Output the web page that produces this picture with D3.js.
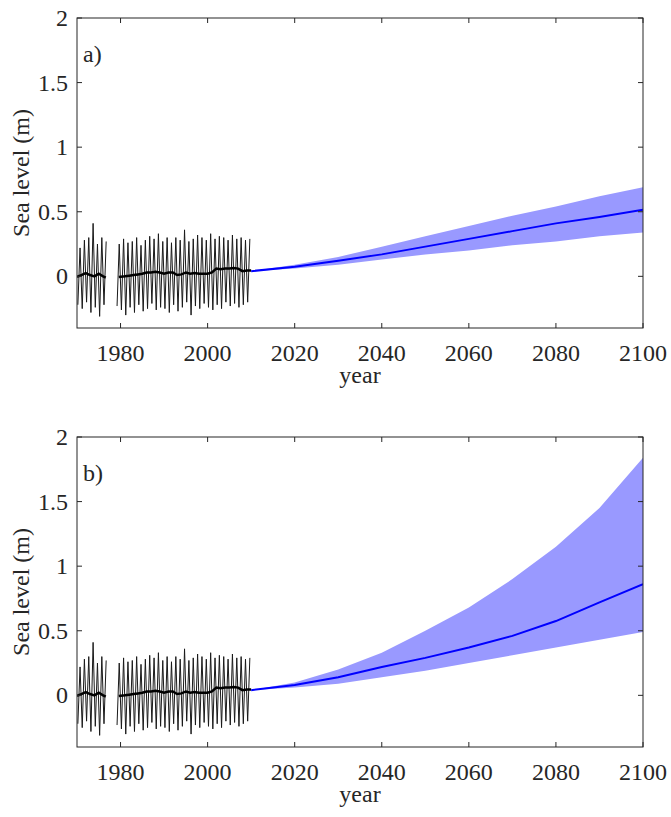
<!DOCTYPE html>
<html>
<head>
<meta charset="utf-8">
<script src="https://cdn.jsdelivr.net/npm/d3@7"></script>
<style>
  body { margin: 0; background: #fff; }
</style>
</head>
<body>
<svg id="chart" width="671" height="817"></svg>
<script>
// tide gauge record, one cycle per year (annual high / low), null = no data
const gaugeYears = d3.range(1970, 2010);
const gaugePeaks = [0.22, 0.28, 0.30, 0.41, 0.25, 0.30, 0.27, null, null, 0.25,
                    0.29, 0.26, 0.27, 0.30, 0.24, 0.28, 0.31, 0.29, 0.33, 0.27,
                    0.30, 0.26, 0.30, 0.28, 0.36, 0.27, 0.29, 0.32, 0.30, 0.28,
                    0.33, 0.29, 0.31, 0.30, 0.28, 0.32, 0.29, 0.30, 0.28, 0.29];
const gaugeTroughs = [-0.22, -0.25, -0.20, -0.28, -0.24, -0.31, -0.22, null, null, -0.23,
                      -0.26, -0.30, -0.24, -0.28, -0.22, -0.27, -0.25, -0.21, -0.26, -0.24,
                      -0.25, -0.28, -0.22, -0.27, -0.24, -0.20, -0.30, -0.23, -0.25, -0.21,
                      -0.24, -0.26, -0.22, -0.25, -0.20, -0.23, -0.21, -0.24, -0.22, -0.20];

// smoothed record
const trendYears = [1970, 1971, 1972, 1973, 1974, 1975, 1976, 1976.6, 1978, 1979.6,
                    1981, 1982, 1983, 1984, 1985, 1986, 1987, 1988, 1989, 1990,
                    1991, 1992, 1993, 1994, 1995, 1996, 1997, 1998, 1999, 2000,
                    2001, 2002, 2003, 2004, 2005, 2006, 2007, 2008, 2009, 2010];
const trendVals = [-0.005, 0.01, 0.025, 0.01, 0.0, 0.02, 0.0, -0.01, null, -0.005,
                   0.0, 0.005, 0.01, 0.015, 0.02, 0.03, 0.03, 0.035, 0.03, 0.02,
                   0.03, 0.03, 0.01, 0.015, 0.03, 0.02, 0.025, 0.02, 0.02, 0.02,
                   0.03, 0.06, 0.055, 0.06, 0.06, 0.065, 0.06, 0.04, 0.045, 0.045];

// projections
const projYears = [2010, 2020, 2030, 2040, 2050, 2060, 2070, 2080, 2090, 2100];
const projMidA = [0.04, 0.075, 0.12, 0.17, 0.23, 0.29, 0.35, 0.41, 0.46, 0.515];
const projLoA  = [0.04, 0.06, 0.09, 0.13, 0.17, 0.20, 0.24, 0.27, 0.31, 0.34];
const projHiA  = [0.04, 0.09, 0.15, 0.23, 0.31, 0.39, 0.47, 0.54, 0.62, 0.69];
const projMidB = [0.04, 0.08, 0.14, 0.22, 0.29, 0.37, 0.46, 0.575, 0.72, 0.86];
const projLoB  = [0.04, 0.06, 0.09, 0.14, 0.19, 0.25, 0.31, 0.37, 0.43, 0.49];
const projHiB  = [0.04, 0.10, 0.20, 0.33, 0.50, 0.68, 0.90, 1.15, 1.45, 1.84];

const xTicks = [1980, 2000, 2020, 2040, 2060, 2080, 2100];
const yTicks = [0, 0.5, 1, 1.5, 2];
const panels = [
  { label: "a)", top: 18, mid: projMidA, lo: projLoA, hi: projHiA },
  { label: "b)", top: 437, mid: projMidB, lo: projLoB, hi: projHiB }
];

const svg = d3.select("#chart");
const left = 77, right = 643, plotH = 310;
const axisColor = "#262626";
const font = "'Liberation Serif', 'Times New Roman', Times, serif";
const fs = 24;

const x = d3.scaleLinear().domain([1970, 2100]).range([left, right]);

// zigzag points: low early in the year, high later
const gaugePts = [];
gaugeYears.forEach((yr, i) => {
  if (gaugePeaks[i] == null) { gaugePts.push(null); return; }
  gaugePts.push({ t: yr + 0.2, v: gaugeTroughs[i] });
  gaugePts.push({ t: yr + 0.7, v: gaugePeaks[i] });
});

panels.forEach((p, k) => {
  const y = d3.scaleLinear().domain([-0.4, 2]).range([p.top + plotH, p.top]);
  const g = svg.append("g");

  g.append("clipPath").attr("id", "clip" + k)
    .append("rect").attr("x", left).attr("y", p.top)
    .attr("width", right - left).attr("height", plotH);

  const plot = g.append("g").attr("clip-path", `url(#clip${k})`);

  const area = d3.area()
    .x((d, i) => x(projYears[i]))
    .y0((d, i) => y(p.lo[i]))
    .y1((d, i) => y(p.hi[i]));
  plot.append("path").datum(projYears)
    .attr("d", area).attr("fill", "#9999ff").attr("stroke", "none");

  plot.append("path").datum(gaugePts)
    .attr("d", d3.line().defined(d => d != null).x(d => x(d.t)).y(d => y(d.v)))
    .attr("fill", "none").attr("stroke", "#1a1a1a").attr("stroke-width", 1);

  plot.append("path").datum(trendYears)
    .attr("d", d3.line().defined((d, i) => trendVals[i] != null)
      .x(d => x(d)).y((d, i) => y(trendVals[i])))
    .attr("fill", "none").attr("stroke", "#000").attr("stroke-width", 2.5);

  plot.append("path").datum(projYears)
    .attr("d", d3.line().x(d => x(d)).y((d, i) => y(p.mid[i])))
    .attr("fill", "none").attr("stroke", "#0000ff").attr("stroke-width", 2);

  // axes, MATLAB-like box with inward ticks
  const bottom = p.top + plotH;
  const ax = g.append("g").attr("stroke", axisColor).attr("stroke-width", 1);
  ax.append("rect").attr("x", left).attr("y", p.top)
    .attr("width", right - left).attr("height", plotH).attr("fill", "none");
  xTicks.forEach(t => {
    ax.append("line").attr("x1", x(t)).attr("x2", x(t)).attr("y1", bottom).attr("y2", bottom - 5);
    ax.append("line").attr("x1", x(t)).attr("x2", x(t)).attr("y1", p.top).attr("y2", p.top + 5);
  });
  yTicks.forEach(t => {
    ax.append("line").attr("y1", y(t)).attr("y2", y(t)).attr("x1", left).attr("x2", left + 5);
    ax.append("line").attr("y1", y(t)).attr("y2", y(t)).attr("x1", right).attr("x2", right - 5);
  });

  const txt = sel => sel.attr("font-family", font).attr("font-size", fs).attr("fill", "#262626");

  g.selectAll(".xt").data(xTicks).enter().append("text")
    .attr("x", d => x(d)).attr("y", bottom + 33)
    .attr("text-anchor", "middle").call(txt)
    .text(d => d);

  g.selectAll(".yt").data(yTicks).enter().append("text")
    .attr("x", left - 9).attr("y", d => y(d) + 8)
    .attr("text-anchor", "end").call(txt)
    .text(d => d);

  g.append("text").attr("x", (left + right) / 2).attr("y", bottom + 55)
    .attr("text-anchor", "middle").call(txt).text("year");

  g.append("text")
    .attr("transform", `translate(29,${p.top + plotH / 2}) rotate(-90)`)
    .attr("text-anchor", "middle").call(txt).text("Sea level (m)");

  g.append("text").attr("x", left + 6).attr("y", p.top + 44)
    .call(txt).text(p.label);
});
</script>
</body>
</html>
